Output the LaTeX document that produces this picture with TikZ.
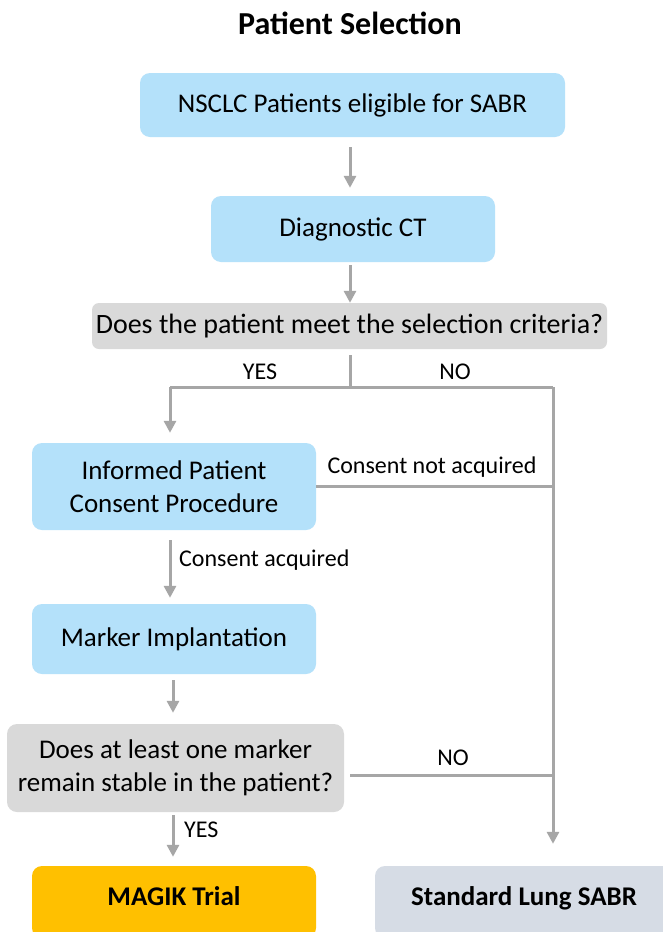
\documentclass[tikz,border=0pt]{standalone}
\usepackage{fontspec}
\setmainfont{Carlito}
\usetikzlibrary{arrows.meta,calc}
\definecolor{boxblue}{HTML}{B4E1FA}
\definecolor{boxgray}{HTML}{D9D9D9}
\definecolor{linegray}{HTML}{A6A6A6}
\definecolor{magik}{HTML}{FFC000}
\definecolor{stdsabr}{HTML}{D6DCE5}
\tikzset{
  box/.style={rounded corners=10pt, inner sep=0pt, align=center,
    font=\fontsize{27}{33}\selectfont, text=black},
  bluebox/.style={box, fill=boxblue},
  graybox/.style={box, fill=boxgray},
  endbox/.style={box, font=\bfseries\fontsize{27}{30}\selectfont,
    text height=17pt, text depth=11pt},
  conn/.style={draw=linegray, line width=3pt},
  arr/.style={conn, -{Triangle[width=12pt,length=12pt]}},
  lab/.style={font=\fontsize{24}{28}\selectfont, inner sep=0pt, text=black},
}
\begin{document}
\begin{tikzpicture}[x=1pt,y=-1pt]
\useasboundingbox (0,0) rectangle (662,932);
\fill[white] (0,0) rectangle (662,932);
\node[font=\bfseries\fontsize{32}{36}\selectfont, inner sep=0pt] (title) at (350,23) {Patient Selection};
\node[bluebox, minimum width=425pt, minimum height=64pt] (nsclc) at (352.5,105) {NSCLC Patients eligible for SABR};
\node[bluebox, minimum width=284pt, minimum height=66pt] (diag) at (353,229) {Diagnostic CT};
\node[graybox, minimum width=515pt, minimum height=46pt, rounded corners=7pt, font=\fontsize{28}{33}\selectfont] (q1) at (349.5,326) {Does the patient meet the selection criteria?};
\node[bluebox, minimum width=284pt, minimum height=87pt] (cons) at (174,486.5) {Informed Patient\\Consent Procedure};
\node[bluebox, minimum width=284pt, minimum height=70pt] (mark) at (174,639) {Marker Implantation};
\node[graybox, minimum width=337pt, minimum height=88pt] (q2) at (175.5,768) {Does at least one marker\\remain stable in the patient?};
\node[endbox, fill=magik, minimum width=284pt, minimum height=72pt] (mg) at (174,902) {MAGIK Trial};
\node[endbox, fill=stdsabr, minimum width=298pt, minimum height=72pt] (std) at (524,902) {Standard Lung SABR};

\coordinate (sp) at (350,387);
\coordinate (tl) at (170,387);
\coordinate (tr) at (553,387);

\draw[arr, shorten <=10pt, shorten >=8pt] (nsclc.south -| 350,0) -- (diag.north -| 350,0);
\draw[arr, shorten <=3pt] (diag.south -| 350,0) -- (q1.north -| 350,0);
\draw[conn, shorten <=6pt] (q1.south -| sp) -- (sp);
\draw[conn] (tl) -- (tr);
\draw[arr, shorten >=10pt] (tl) -- (tl |- cons.north);
\draw[arr, shorten >=22pt] (tr) -- (tr |- std.north);
\draw[conn] (cons.east) -- (cons.east -| tr);
\draw[arr, shorten <=10pt, shorten >=6pt] (cons.south -| tl) -- (mark.north -| tl);
\draw[arr, shorten <=6pt, shorten >=11pt] (mark.south -| 173,0) -- (q2.north -| 173,0);
\draw[arr, shorten <=3pt, shorten >=9pt] (q2.south -| 173,0) -- (mg.north -| 173,0);
\draw[conn] ($(q2.east)+(6,7)$) -- ($(q2.east -| tr)+(0,7)$);

\node[lab] (yes1) at (260,372) {YES};
\node[lab] (no1) at (455,372) {NO};
\node[lab] (cna) at (432,467) {Consent not acquired};
\node[lab, anchor=west] (ca) at (179,560) {Consent acquired};
\node[lab, anchor=west] (yes2) at (184,830) {YES};
\node[lab] (no2) at (453,758) {NO};
\end{tikzpicture}
\end{document}
